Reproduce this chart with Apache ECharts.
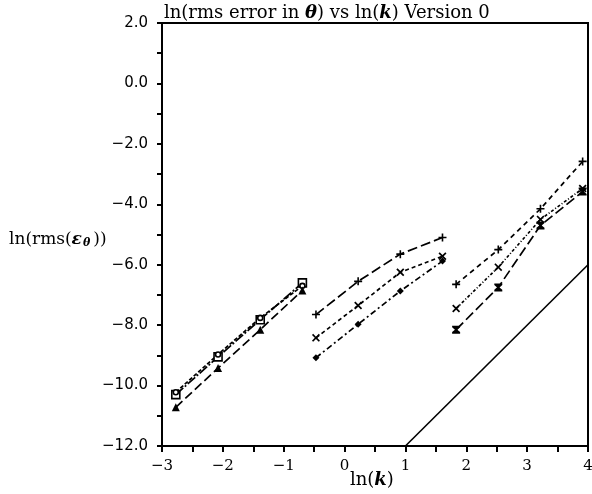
<!DOCTYPE html>
<html><head><meta charset="utf-8">
<script src="https://cdn.jsdelivr.net/npm/echarts@6/dist/echarts.min.js"></script>
<style>html,body{margin:0;padding:0;background:#fff}#c{width:592px;height:494px}</style>
</head><body><div id="c"></div>
<script>
// ln(k) positions
const g1X = [-2.773, -2.079, -1.386, -0.693];
const g2X = [-0.470, 0.223, 0.916, 1.609];
const g3X = [1.833, 2.526, 3.219, 3.912];
// series values ln(rms error)
const g1Square   = [-10.30, -9.05, -7.82, -6.60];
const g1Circle   = [-10.22, -8.97, -7.76, -6.70];
const g1Triangle = [-10.72, -9.42, -8.15, -6.85];
const g2Plus     = [-7.65, -6.55, -5.65, -5.10];
const g2Cross    = [-8.42, -7.35, -6.25, -5.72];
const g2Diamond  = [-9.08, -7.97, -6.87, -5.88];
const g3Plus     = [-6.65, -5.50, -4.15, -2.58];
const g3Cross    = [-7.45, -6.08, -4.50, -3.48];
const g3BoxX     = [-8.15, -6.75, -4.70, -3.58];
const refX = [1, 4];
const refY = [-12, -6];

const PLUS = 'path://M4,0L6,0L6,4L10,4L10,6L6,6L6,10L4,10L4,6L0,6L0,4L4,4Z';
const CROSS = 'path://M1.5,0L5,3.5L8.5,0L10,1.5L6.5,5L10,8.5L8.5,10L5,6.5L1.5,10L0,8.5L3.5,5L0,1.5Z';
const HOURGLASS = 'path://M0,0L10,0L10,2L6.5,5L10,8L10,10L0,10L0,8L3.5,5L0,2Z';

function pairs(xs, ys){ return xs.map((x,i)=>[x, ys[i]]); }
function minus(v, d){ return (v < 0 ? '\u2212' : '') + Math.abs(v).toFixed(d); }

function mk(xs, ys, symbol, size, dash, fill){
  return {
    type:'line', data: pairs(xs, ys), symbol: symbol, symbolSize: size,
    lineStyle:{color:'#000', width:1.7, type: dash},
    itemStyle:{color: fill || '#000', borderColor:'#000', borderWidth: fill ? 1.6 : 0},
    showSymbol:true, animation:false, silent:true, z: 3
  };
}

const chart = echarts.init(document.getElementById('c'), null, {renderer:'canvas'});
chart.setOption({
  backgroundColor:'#fff',
  animation:false,
  title:{
    text:'ln(rms error in {i|θ}) vs ln({b|k}) Version 0',
    left: 159, top: -1,
    textStyle:{fontFamily:'DejaVu Serif', fontSize:18, fontWeight:'normal', color:'#000',
      rich:{ i:{fontFamily:'DejaVu Serif', fontStyle:'italic', fontSize:18, fontWeight:'bold'},
             b:{fontFamily:'DejaVu Serif', fontStyle:'italic', fontWeight:'bold', fontSize:18} }}
  },
  graphic:[{
    type:'text', left:9, top:231, silent:true,
    style:{
      text:'ln(rms({e|ε}{s|θ}))',
      fontFamily:'DejaVu Serif', fontSize:17, fill:'#000',
      rich:{e:{fontFamily:'DejaVu Serif', fontStyle:'italic', fontWeight:'bold', fontSize:17},
            s:{fontFamily:'DejaVu Serif', fontStyle:'italic', fontWeight:'bold', fontSize:11, padding:[7,3,0,1]}}
    }
  },{
    type:'text', left:350, top:471, silent:true,
    style:{
      text:'ln({b|k})',
      fontFamily:'DejaVu Serif', fontSize:18, fill:'#000',
      rich:{b:{fontFamily:'DejaVu Serif', fontStyle:'italic', fontWeight:'bold', fontSize:18}}
    }
  }],
  grid:{left:162, right:4, top:23, bottom:48, containLabel:false, outerBoundsMode:'none',
        show:true, borderColor:'#000', borderWidth:2, backgroundColor:'transparent'},
  xAxis:{
    type:'value', min:-3, max:4, interval:0.5,
    axisLine:{onZero:false, lineStyle:{color:'#000', width:2}},
    axisTick:{inside:false, length:6, lineStyle:{color:'#000', width:2}},
    splitLine:{show:false},
    axisLabel:{fontFamily:'DejaVu Serif', fontSize:15, color:'#000', margin:13,
      formatter: v => (Math.abs(v - Math.round(v)) < 1e-9) ? minus(v,0) : ''}
  },
  yAxis:{
    type:'value', min:-12, max:2, interval:1,
    axisLine:{onZero:false, lineStyle:{color:'#000', width:2}},
    axisTick:{inside:false, length:5, lineStyle:{color:'#000', width:2}},
    splitLine:{show:false},
    axisLabel:{fontFamily:'DejaVu Sans', fontSize:15, color:'#000', margin:14,
      formatter: v => (Math.round(v) % 2 === 0) ? minus(v,1) : ''}
  },
  series:[
    mk(g1X, g1Square, 'rect', 8, [10,2,2,2], '#fff'),
    mk(g1X, g1Circle, 'circle', 5, [4,2], '#fff'),
    mk(g1X, g1Triangle, 'triangle', 8, [9,4]),
    mk(g2X, g2Plus, PLUS, 8, [10,4]),
    mk(g2X, g2Cross, CROSS, 8, [4,3]),
    mk(g2X, g2Diamond, 'diamond', 7, [6,3,2,3]),
    mk(g3X, g3Plus, PLUS, 8, [5,4]),
    mk(g3X, g3Cross, CROSS, 8, [3,2,1,2]),
    mk(g3X, g3BoxX, HOURGLASS, 8, [10,4]),
    {type:'line', data: pairs(refX, refY), symbol:'none', lineStyle:{color:'#000', width:1.6}, animation:false, silent:true}
  ]
});
</script></body></html>
